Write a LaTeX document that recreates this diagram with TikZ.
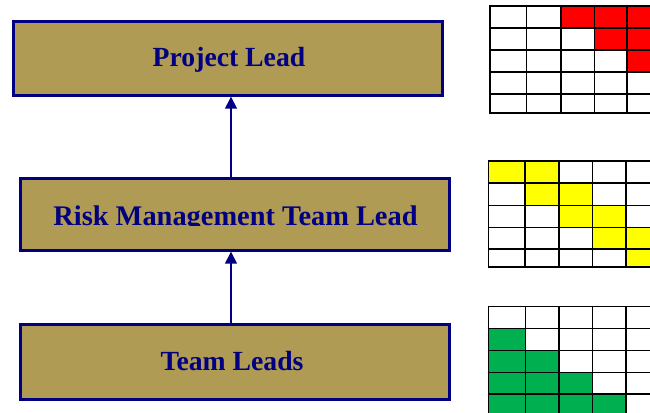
\documentclass[tikz,border=0pt]{standalone}
\usepackage{fontspec}
\setmainfont{Liberation Serif}
\usetikzlibrary{arrows.meta}
\definecolor{navy}{HTML}{000080}
\definecolor{tanfill}{HTML}{B09B55}
\definecolor{cellred}{HTML}{FF0000}
\definecolor{cellyellow}{HTML}{FFFF00}
\definecolor{cellgreen}{HTML}{00B050}
\tikzset{
  leadbox/.style={draw=navy, line width=3pt, fill=tanfill, minimum width=429pt, inner sep=0pt},
  boxtext/.style={text=navy, font=\fontsize{27.7}{30}\selectfont\bfseries, text height=18pt, text depth=0pt, inner sep=0pt},
  uparrow/.style={draw=navy, line width=1.5pt, -{Triangle[width=12pt,length=12pt]}},
  gridline/.style={draw=black, line width=1.7pt},
}
\begin{document}
\begin{tikzpicture}[x=1pt,y=-1pt]
\useasboundingbox (0,0) rectangle (650,412);
\clip (0,0) rectangle (650,412);
% boxes
\node[leadbox, minimum height=73.7pt] (project) at (227.9,58.35) {};
\node[leadbox, minimum height=72pt] (risk) at (235,214.2) {};
\node[leadbox, minimum height=74.4pt] (team) at (235,362) {};
\node[boxtext] (projecttext) at (229,57.7) {Project Lead};
\begin{scope}
  \clip (0,0) rectangle (650,225.5);
  \node[boxtext, font=\fontsize{28.4}{30}\selectfont\bfseries] (risktext) at (235.5,216) {Risk Management Team Lead};
\end{scope}
\node[boxtext] (teamtext) at (232,361.7) {Team Leads};
% arrows
\coordinate (ax) at (231,0);
\draw[uparrow] (ax |- risk.north) -- (ax |- project.south);
\draw[uparrow] (ax |- team.north) -- (ax |- risk.south);
% grid 1
\fill[cellred] (561,6) rectangle (661,28);
\fill[cellred] (594.5,28) rectangle (661,50);
\fill[cellred] (627,50) rectangle (661,72);
\foreach \x in {490,526.5,561,594.5,627} \draw[gridline] (\x,6) -- (\x,113);
\foreach \y in {6,28,50,72,94,113} \draw[gridline] (489.15,\y) -- (661,\y);
% grid 2
\fill[cellyellow] (488.5,161) rectangle (559,183);
\fill[cellyellow] (525,183) rectangle (592.5,205.5);
\fill[cellyellow] (559,205.5) rectangle (626,227.5);
\fill[cellyellow] (592.5,227.5) rectangle (660,249);
\fill[cellyellow] (626,249) rectangle (660,267);
\foreach \x in {488.5,525,559,592.5,626} \draw[gridline] (\x,161) -- (\x,267);
\foreach \y in {161,183,205.5,227.5,249,267} \draw[gridline] (487.65,\y) -- (660,\y);
% grid 3
\fill[cellgreen] (488.5,328.5) rectangle (525.5,350.5);
\fill[cellgreen] (488.5,350.5) rectangle (559,372.5);
\fill[cellgreen] (488.5,372.5) rectangle (592.5,394);
\fill[cellgreen] (488.5,394) rectangle (626,416);
\foreach \x in {488.5,525.5,559,592.5,626} \draw[gridline] (\x,306.5) -- (\x,416);
\foreach \y in {306.5,328.5,350.5,372.5,394} \draw[gridline] (487.65,\y) -- (660,\y);
\end{tikzpicture}
\end{document}
